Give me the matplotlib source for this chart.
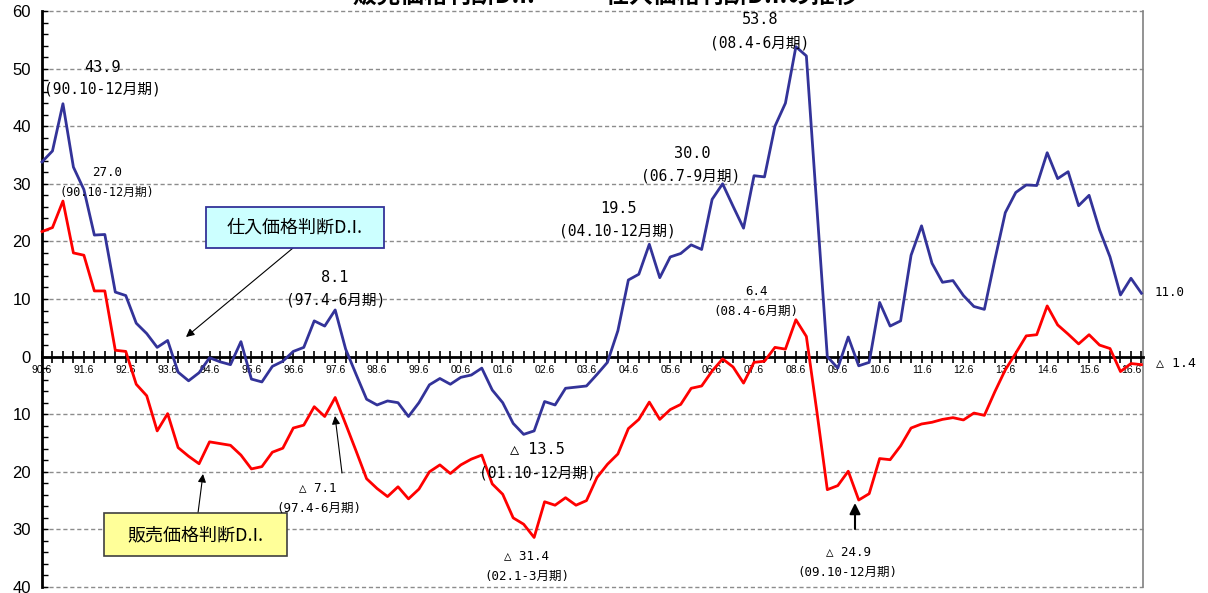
import matplotlib
matplotlib.use("Agg")
import matplotlib.pyplot as plt
from matplotlib.ticker import MultipleLocator, FixedLocator
from matplotlib.patches import Rectangle

# ---------------- data ----------------
title = "販売価格判断D.I.　・　仕入価格判断D.I.の推移"

year_labels = ["90.6", "91.6", "92.6", "93.6", "94.6", "95.6", "96.6", "97.6",
               "98.6", "99.6", "00.6", "01.6", "02.6", "03.6", "04.6", "05.6",
               "06.6", "07.6", "08.6", "09.6", "10.6", "11.6", "12.6", "13.6",
               "14.6", "15.6", "16.6"]

# 仕入価格判断D.I. (quarterly, 90.4-6 .. 16.7-9)
purchase_di = [33.8, 35.7, 43.9, 32.9, 29.0, 21.1, 21.2, 11.2, 10.6, 5.8,
               4.0, 1.6, 2.8, -2.7, -4.2, -2.8, -0.2, -0.9, -1.4, 2.6,
               -3.9, -4.4, -1.7, -0.8, 0.9, 1.6, 6.2, 5.3, 8.1, 1.3,
               -3.1, -7.4, -8.4, -7.7, -8.0, -10.4, -8.0, -4.9, -3.8, -4.8,
               -3.6, -3.2, -2.0, -5.8, -8.0, -11.6, -13.5, -12.9, -7.8, -8.4,
               -5.5, -5.3, -5.1, -3.1, -1.0, 4.5, 13.3, 14.3, 19.5, 13.7,
               17.3, 17.9, 19.4, 18.6, 27.3, 30.0, 26.1, 22.3, 31.4, 31.2,
               40.0, 44.0, 53.8, 52.2, 26.0, 0.0, -2.0, 3.4, -1.6, -1.0,
               9.4, 5.3, 6.2, 17.6, 22.7, 16.2, 12.9, 13.2, 10.6, 8.7,
               8.2, 16.8, 25.0, 28.5, 29.8, 29.7, 35.4, 30.9, 32.1, 26.2,
               28.0, 22.0, 17.3, 10.7, 13.6, 11.0]

# 販売価格判断D.I.
sales_di = [21.7, 22.4, 27.0, 18.0, 17.6, 11.4, 11.4, 1.1, 0.9, -4.8,
            -6.8, -12.9, -9.9, -15.8, -17.3, -18.6, -14.8, -15.1, -15.4, -17.1,
            -19.5, -19.1, -16.6, -15.9, -12.4, -11.9, -8.7, -10.4, -7.1, -11.7,
            -16.4, -21.2, -22.9, -24.3, -22.6, -24.7, -23.0, -20.0, -18.8, -20.3,
            -18.8, -17.8, -17.1, -22.1, -23.9, -28.0, -29.1, -31.4, -25.2, -25.8,
            -24.5, -25.8, -25.0, -21.0, -18.7, -16.9, -12.5, -10.9, -7.9, -10.9,
            -9.2, -8.3, -5.5, -5.1, -2.5, -0.4, -1.8, -4.6, -1.0, -0.8,
            1.6, 1.3, 6.4, 3.5, -9.5, -23.1, -22.4, -19.9, -24.9, -23.8,
            -17.7, -17.9, -15.5, -12.4, -11.7, -11.4, -10.9, -10.6, -11.0, -9.8,
            -10.2, -6.1, -2.3, 0.6, 3.6, 3.8, 8.8, 5.5, 3.9, 2.2,
            3.8, 2.0, 1.4, -2.6, -1.2, -1.4]

# ---------------- figure ----------------
W, H = 1208, 593
fig = plt.figure(figsize=(W / 100, H / 100), dpi=100)
ax = fig.add_axes([42 / W, 1 - 587 / H, (1143 - 42) / W, 576 / H])

xs = list(range(len(purchase_di)))
ax.plot(xs, purchase_di, color="#333399", lw=2.0, zorder=4, clip_on=False)
ax.plot(xs, sales_di, color="#FF0000", lw=2.0, zorder=4, clip_on=False)

ax.set_xlim(0, 105.15)
ax.set_ylim(-40, 60)

# spines
ax.spines["top"].set_visible(False)
ax.spines["right"].set_color("#808080")
ax.spines["right"].set_linewidth(1.2)
ax.spines["left"].set_color("black")
ax.spines["left"].set_linewidth(2)
ax.spines["bottom"].set_position(("data", 0))
ax.spines["bottom"].set_color("black")
ax.spines["bottom"].set_linewidth(2)
ax.spines["bottom"].set_zorder(3)

# y axis
yt = list(range(-40, 61, 10))
ax.set_yticks(yt)
ax.set_yticklabels([str(abs(v)) for v in yt], fontsize=12, family="Liberation Sans")
ax.yaxis.set_minor_locator(MultipleLocator(2))
ax.tick_params(axis="y", which="both", direction="in", length=4, width=1,
               color="black", pad=8)
ax.yaxis.grid(True, color="#8c8c8c", ls=(0, (3, 2)), lw=1)
for gl in ax.get_ygridlines():
    gl.set_clip_on(False)
ax.set_axisbelow(True)

# x axis
ax.xaxis.set_major_locator(FixedLocator(list(range(0, 105, 4))))
ax.set_xticklabels(year_labels, fontsize=7.5, family="Liberation Sans")
ax.xaxis.set_minor_locator(FixedLocator(list(range(0, 106))))
ax.tick_params(axis="x", which="both", direction="inout", length=8, width=1.2,
               color="black", pad=2)

# ---------------- annotations ----------------
MONO = ["DejaVu Sans Mono", "Noto Sans CJK JP"]
CJK = ["Noto Sans CJK JP", "DejaVu Sans"]


def fx(px):
    return px / W


def fy(py):
    return 1 - py / H


def T(px, py, s, size, ha="center"):
    fig.text(fx(px), fy(py), s, ha=ha, va="center", fontsize=size,
             family=MONO, color="black", zorder=6)


def arrow(tail, head, lw=0.8, ms=12):
    ax.annotate("", xy=(fx(head[0]), fy(head[1])), xycoords="figure fraction",
                xytext=(fx(tail[0]), fy(tail[1])), textcoords="figure fraction",
                arrowprops=dict(arrowstyle="-|>", color="black", lw=lw,
                                mutation_scale=ms, shrinkA=0, shrinkB=0),
                zorder=6)


# title (cut at top, as in the source image)
fig.text(fx(606), fy(8), title, ha="center", va="bottom", fontsize=17,
         fontweight="bold", family=CJK)

# purchase annotations
T(102, 67, "43.9", 11)
T(102, 89, "(90.10-12月期)", 10.5)
T(335, 277, "8.1", 11)
T(336, 300, "(97.4-6月期)", 10.5)
T(618, 208, "19.5", 11)
T(617, 231, "(04.10-12月期)", 10.5)
T(692, 153, "30.0", 11)
T(691, 176, "(06.7-9月期)", 10.5)
T(760, 20, "53.8", 11)
T(760, 43, "(08.4-6月期)", 10.5)
T(537, 449, "△ 13.5", 11)
T(537, 473, "(01.10-12月期)", 10.5)
T(1155, 293, "11.0", 9, ha="left")

# sales annotations
T(107, 173, "27.0", 9)
T(107, 192, "(90.10-12月期)", 8.5)
T(756, 291, "6.4", 9)
T(756, 311, "(08.4-6月期)", 9)
T(318, 488, "△ 7.1", 9)
T(319, 508, "(97.4-6月期)", 9)
T(527, 556, "△ 31.4", 9)
T(527, 576, "(02.1-3月期)", 9)
T(848, 552, "△ 24.9", 9)
T(847, 572, "(09.10-12月期)", 9)
T(1156, 363, "△ 1.4", 9.5, ha="left")

# label boxes
fig.add_artist(Rectangle((fx(206), fy(248)), (384 - 206) / W, (248 - 207) / H,
                         transform=fig.transFigure, facecolor="#CCFFFF",
                         edgecolor="#333399", lw=1.3, zorder=5))
fig.text(fx(295), fy(228), "仕入価格判断D.I.", ha="center", va="center",
         fontsize=13, family=CJK, zorder=6)
fig.add_artist(Rectangle((fx(104), fy(556)), (287 - 104) / W, (556 - 513) / H,
                         transform=fig.transFigure, facecolor="#FFFF99",
                         edgecolor="#404040", lw=1.2, zorder=5))
fig.text(fx(196), fy(535), "販売価格判断D.I.", ha="center", va="center",
         fontsize=13, family=CJK, zorder=6)

# arrows
arrow((293, 248), (186, 337))
arrow((198, 513), (203, 474))
arrow((342, 473), (335, 416))
arrow((855, 529), (855, 503), lw=1.5, ms=16)

fig.savefig("out.png", dpi=100)
